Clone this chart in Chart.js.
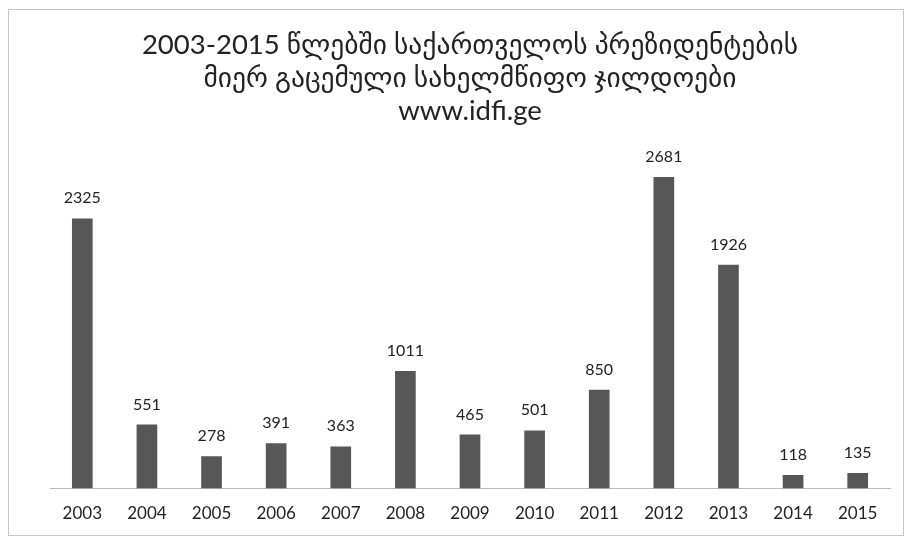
<!DOCTYPE html>
<html>
<head>
<meta charset="utf-8">
<script src="https://cdn.jsdelivr.net/npm/chart.js@4.4.0/dist/chart.umd.min.js"></script>
<style>
  body { margin: 0; background: #fff; }
  #wrap { position: relative; width: 909px; height: 541px; }
  #frame { position: absolute; left: 8px; top: 9px; width: 894px; height: 525px; border: 1px solid #c8c8c8; pointer-events: none; }
</style>
</head>
<body>
<div id="wrap">
  <canvas id="myChart" width="909" height="541"></canvas>
  <div id="frame"></div>
</div>
<script>
// data
var years = ["2003", "2004", "2005", "2006", "2007", "2008", "2009", "2010", "2011", "2012", "2013", "2014", "2015"];
var awards = [2325, 551, 278, 391, 363, 1011, 465, 501, 850, 2681, 1926, 118, 135];
var titleLines = [
    "2003-2015 წლებში საქართველოს პრეზიდენტების",
    "მიერ გაცემული სახელმწიფო ჯილდოები",
    "www.idfi.ge"
];

// numbers above the bars
var barLabels = {
    id: "barLabels",
    afterDatasetsDraw: function(chart) {
        var ctx = chart.ctx;
        var meta = chart.getDatasetMeta(0);
        ctx.save();
        ctx.font = "16px Lato, 'DejaVu Sans', sans-serif";
        ctx.fillStyle = "#222";
        ctx.textAlign = "center";
        ctx.textBaseline = "alphabetic";
        meta.data.forEach(function(bar, i) {
            ctx.fillText(awards[i], bar.x, bar.y - 15);
        });
        ctx.restore();
    }
};

new Chart("myChart", {
    type: "bar",
    data: {
        labels: years,
        datasets: [{
            backgroundColor: "#575757",
            data: awards,
            barPercentage: 0.32,
            categoryPercentage: 1
        }]
    },
    options: {
        responsive: false,
        animation: false,
        layout: { padding: { left: 50, right: 19, top: 0, bottom: 2 } },
        plugins: {
            legend: { display: false },
            tooltip: { enabled: false },
            title: {
                display: true,
                text: titleLines,
                color: "#222",
                font: { family: "Lato, 'DejaVu Sans', sans-serif", size: 27.5, weight: "normal", lineHeight: 1.2 },
                padding: { top: 29, bottom: 12 }
            }
        },
        scales: {
            x: {
                grid: { display: false, drawTicks: false },
                border: { display: true, color: "#bbbbbb" },
                ticks: { color: "#222", padding: 15, font: { family: "Lato, 'DejaVu Sans', sans-serif", size: 17 } }
            },
            y: {
                display: false,
                min: 0,
                max: 3000
            }
        }
    },
    plugins: [barLabels]
});
</script>
</body>
</html>
